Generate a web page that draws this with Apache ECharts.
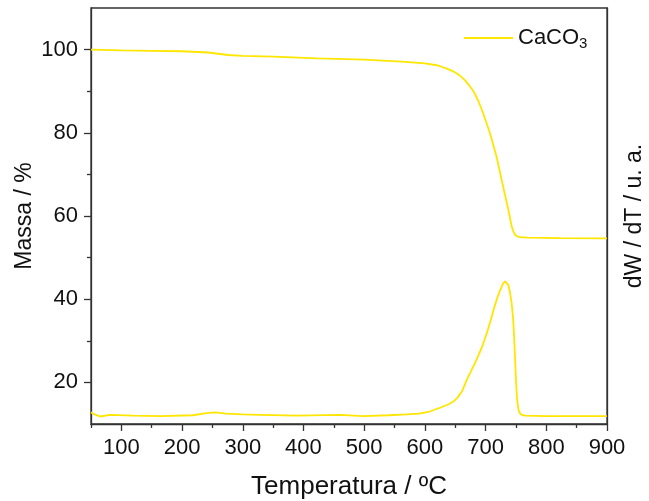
<!DOCTYPE html>
<html>
<head>
<meta charset="utf-8">
<script src="https://cdn.jsdelivr.net/npm/echarts@6/dist/echarts.min.js"></script>
<style>html,body{margin:0;padding:0;background:#fff;}#c{width:649px;height:501px;}</style>
</head>
<body>
<div id="c"></div>
<script>
// Data
var seriesName = 'CaCO3';
var tgTemp = [50, 100, 150, 200, 243, 260, 276, 300, 350, 424, 500, 562, 600, 617, 625, 635, 645, 652, 658, 665, 672, 680, 688, 696, 707, 718, 729, 737.5, 743, 746, 748.5, 752, 757, 770, 823, 900];
var tgMass = [100, 99.8, 99.7, 99.6, 99.3, 99.0, 98.7, 98.5, 98.3, 97.9, 97.6, 97.1, 96.7, 96.3, 96.0, 95.5, 94.9, 94.3, 93.7, 92.8, 91.6, 90.0, 87.7, 84.7, 80.0, 74.3, 67.0, 61.5, 57.5, 56.2, 55.5, 55.1, 54.9, 54.8, 54.7, 54.6];
var dtgTemp = [50, 56, 65, 81, 120, 164, 218, 240, 254, 273, 300, 328, 389, 460, 498, 540, 570, 590, 608, 625, 640, 647, 654, 661, 669, 677, 685, 694, 702, 708, 713, 719, 724, 729, 732, 735, 737.5, 740, 743, 745.5, 747, 748.5, 750, 752, 754, 756, 759.5, 765, 800, 900];
var dtgVal = [12.8, 12.3, 11.8, 12.2, 12.0, 11.9, 12.1, 12.6, 12.8, 12.5, 12.3, 12.2, 12.0, 12.2, 11.9, 12.1, 12.3, 12.5, 13.0, 13.9, 14.8, 15.4, 16.4, 17.8, 20.6, 23.0, 25.4, 28.5, 31.8, 34.7, 37.4, 40.2, 42.2, 43.8, 44.3, 44.1, 43.4, 41.8, 39.0, 35.0, 31.0, 26.0, 20.6, 15.8, 13.6, 12.7, 12.2, 12.0, 11.9, 11.9];
var xMajorTicks = [100, 200, 300, 400, 500, 600, 700, 800, 900];
var xMinorTicks = [50, 150, 250, 350, 450, 550, 650, 750, 850];
var yMajorTicks = [20, 40, 60, 80, 100];
var yMinorTicks = [30, 50, 70, 90];

function pairs(xs, ys) { return xs.map(function (x, i) { return [x, ys[i]]; }); }

var lineColor = '#ffe600';
var axisColor = '#333';
var textColor = '#111';
var font = 'Liberation Sans, Arial, sans-serif';

var chart = echarts.init(document.getElementById('c'), null, {renderer: 'canvas'});
chart.setOption({
  animation: false,
  backgroundColor: '#fff',
  textStyle: {fontFamily: font},
  grid: {left: 91, right: 42, top: 8, bottom: 77, containLabel: false, outerBoundsMode: 'none', show: true, borderColor: axisColor, borderWidth: 1.3, backgroundColor: 'transparent'},
  legend: {
    data: [seriesName], left: 464, top: 27, padding: 0, itemWidth: 49, itemHeight: 2, itemGap: 0,
    icon: 'rect',
    formatter: function () { return '{a|CaCO}{b|3}'; },
    textStyle: {
      fontFamily: font, color: textColor,
      rich: {a: {fontSize: 22, fontFamily: font, color: textColor}, b: {fontSize: 15, fontFamily: font, color: textColor, padding: [12, 0, 0, 0]}}
    }
  },
  xAxis: [{
    type: 'value', min: 50, max: 900, interval: 50, position: 'bottom',
    name: 'Temperatura / ºC', nameLocation: 'middle', nameGap: 50,
    nameTextStyle: {fontSize: 26, color: textColor, fontFamily: font},
    axisLine: {show: true, lineStyle: {color: axisColor, width: 1.3}},
    axisTick: {show: true, length: 7, customValues: xMajorTicks, lineStyle: {color: axisColor, width: 1.3}},
    axisLabel: {customValues: xMajorTicks, fontSize: 22, color: textColor, margin: 13, fontFamily: font},
    splitLine: {show: false}
  }, {
    type: 'value', min: 50, max: 900, interval: 50, position: 'bottom', offset: 0,
    axisLine: {show: false},
    axisTick: {show: true, length: 4, customValues: xMinorTicks, lineStyle: {color: axisColor, width: 1.3}},
    axisLabel: {show: false},
    splitLine: {show: false}
  }],
  yAxis: [{
    type: 'value', min: 10, max: 110, interval: 10, position: 'left',
    name: 'Massa / %', nameLocation: 'middle', nameGap: 55, nameMoveOverlap: false,
    nameTextStyle: {fontSize: 23, color: textColor, fontFamily: font},
    axisLine: {show: true, lineStyle: {color: axisColor, width: 1.3}},
    axisTick: {show: true, length: 7, customValues: yMajorTicks, lineStyle: {color: axisColor, width: 1.3}},
    axisLabel: {customValues: yMajorTicks, fontSize: 22, color: textColor, margin: 13, fontFamily: font},
    splitLine: {show: false}
  }, {
    type: 'value', min: 10, max: 110, interval: 10, position: 'left', offset: 0,
    axisLine: {show: false},
    axisTick: {show: true, length: 4, customValues: yMinorTicks, lineStyle: {color: axisColor, width: 1.3}},
    axisLabel: {show: false},
    splitLine: {show: false}
  }, {
    type: 'value', min: 10, max: 110, interval: 10, position: 'right', offset: 0,
    name: 'dW / dT / u. a.', nameLocation: 'middle', nameGap: 16,
    nameTextStyle: {fontSize: 23, color: textColor, fontFamily: font},
    axisLine: {show: true, lineStyle: {color: axisColor, width: 1.3}},
    axisTick: {show: false},
    axisLabel: {show: false},
    splitLine: {show: false}
  }],
  series: [{
    name: seriesName, type: 'line', xAxisIndex: 0, yAxisIndex: 0,
    data: pairs(tgTemp, tgMass), symbol: 'none', smooth: false,
    lineStyle: {color: lineColor, width: 1.8}, itemStyle: {color: lineColor}
  }, {
    name: seriesName, type: 'line', xAxisIndex: 0, yAxisIndex: 2,
    data: pairs(dtgTemp, dtgVal), symbol: 'none', smooth: false,
    lineStyle: {color: lineColor, width: 1.8}, itemStyle: {color: lineColor}
  }]
});
</script>
</body>
</html>
